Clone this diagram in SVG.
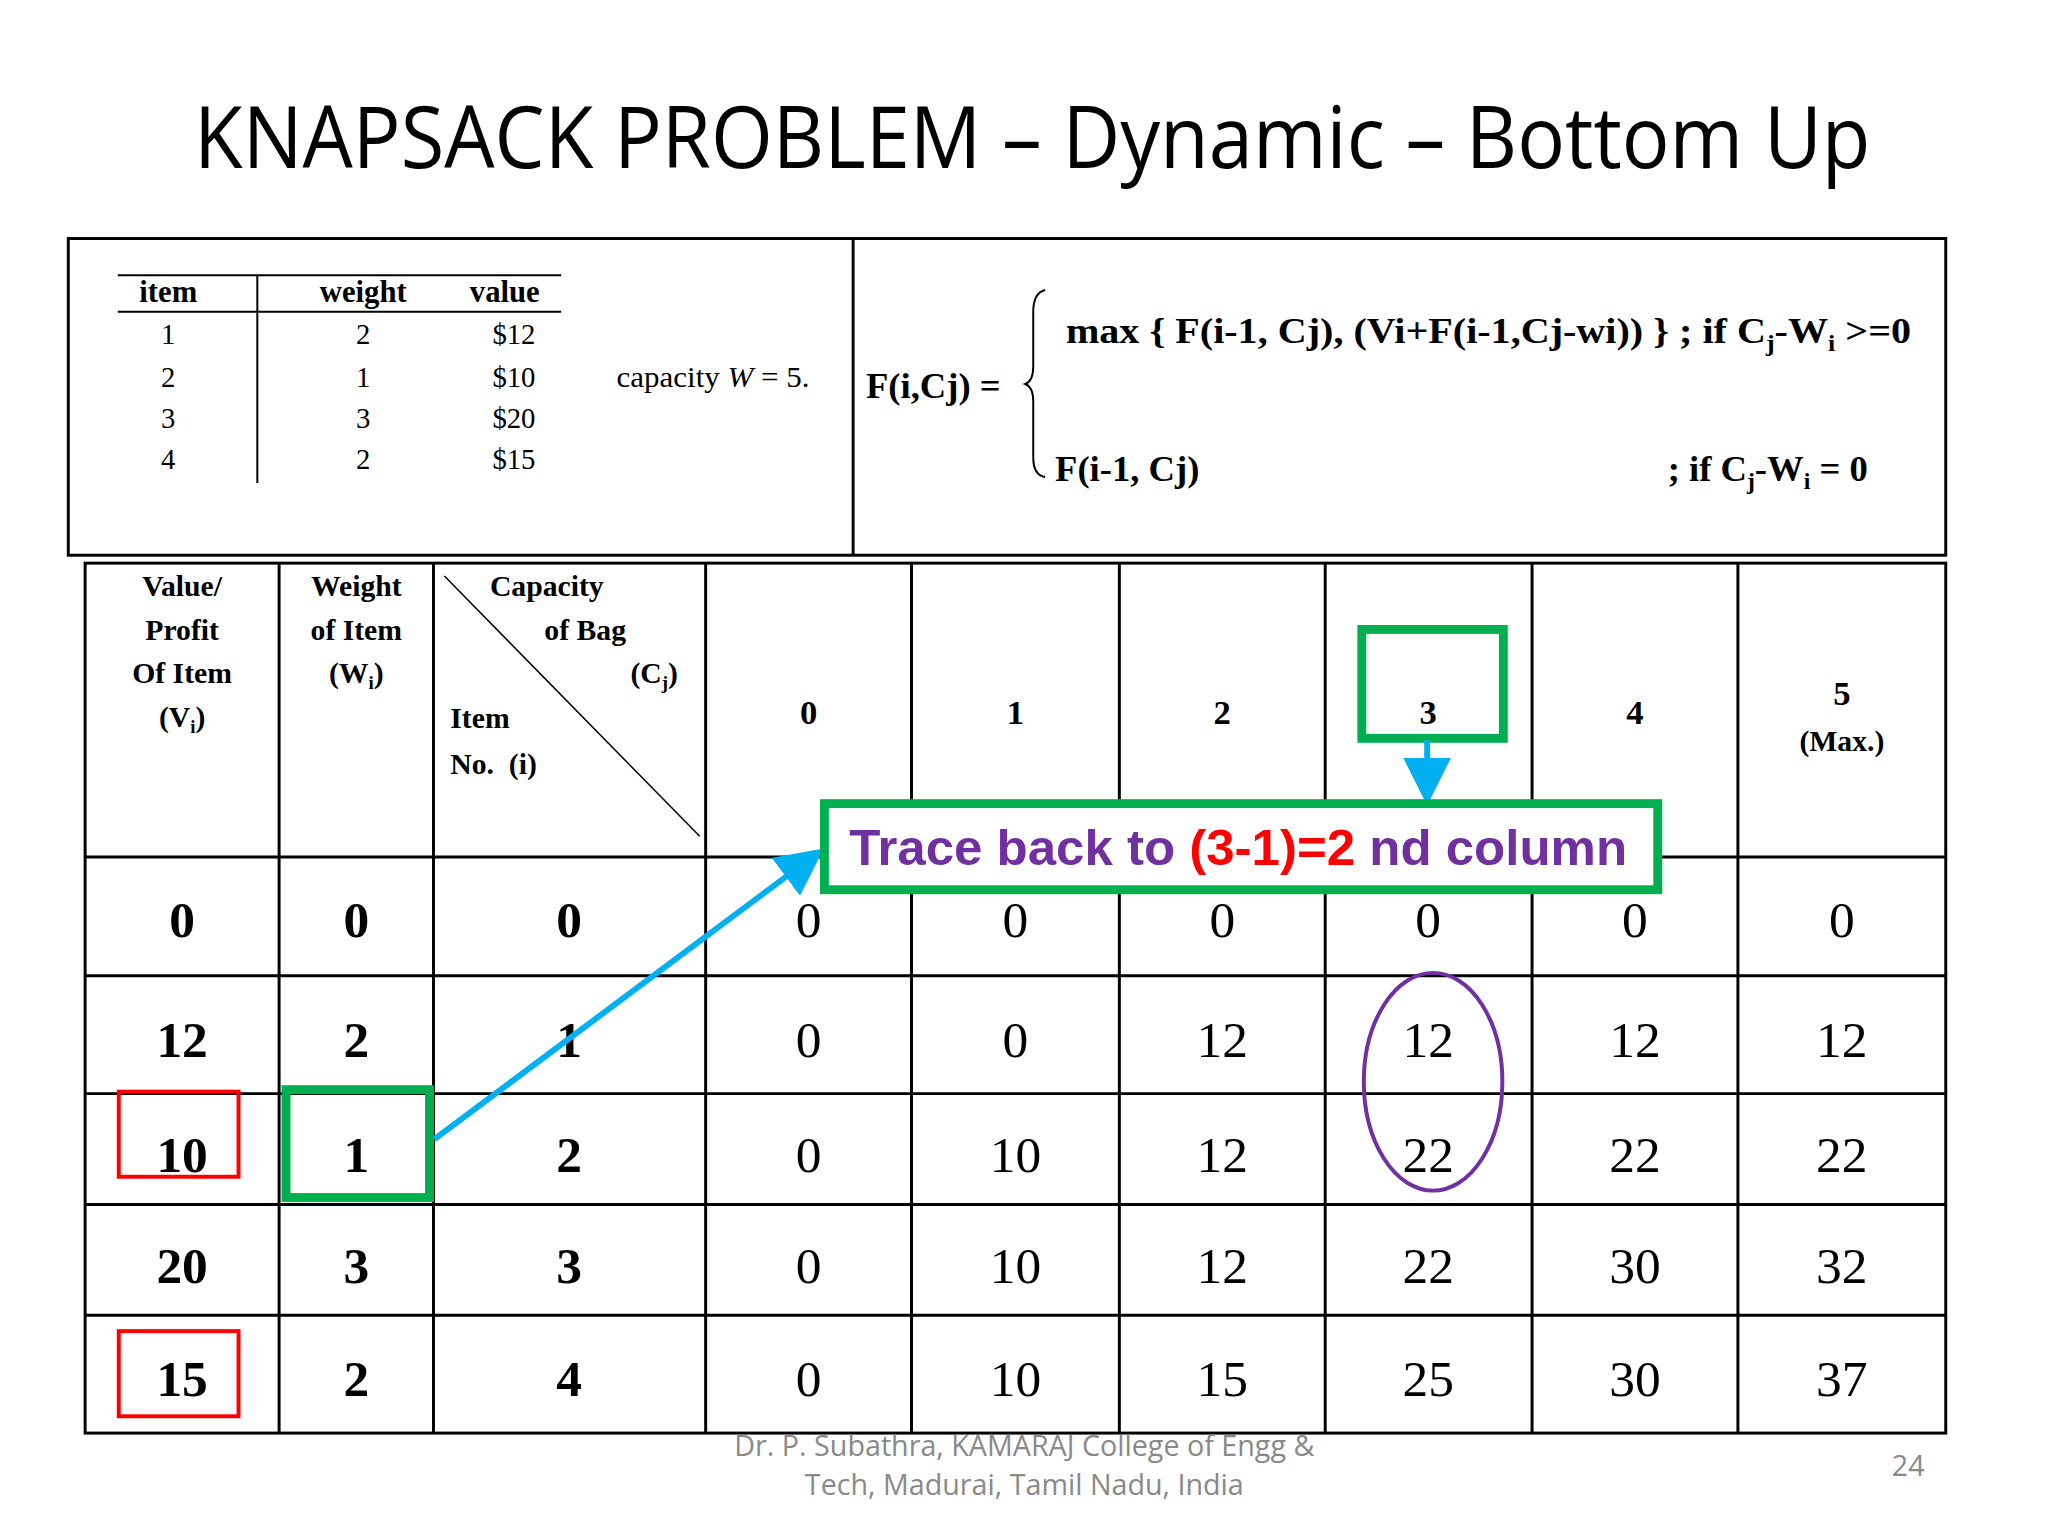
<svg xmlns="http://www.w3.org/2000/svg" width="2048" height="1536" viewBox="0 0 2048 1536">
<style>
.t{font-family:"Liberation Serif",serif;fill:#000}
.b{font-weight:bold}
.g{stroke:#000;stroke-width:3;fill:none}
.v{font-family:"Liberation Serif",serif;font-size:52px;text-anchor:middle}
.hd{font-family:"Liberation Serif",serif;font-weight:bold;font-size:30px;text-anchor:middle}
.hs{text-anchor:start}
.ch{font-size:35px}
</style>
<defs>
<marker id="ah" markerWidth="8" markerHeight="8" refX="5" refY="4" orient="auto" markerUnits="strokeWidth"><path d="M0,0 L8,4 L0,8 Z" fill="#00B0F0"/></marker>
</defs>
<rect width="2048" height="1536" fill="#fff"/>
<g transform="scale(0.9897)">
<text x="1043" y="170" font-family="'Open Sans',sans-serif" font-size="86" text-anchor="middle" textLength="1694" lengthAdjust="spacingAndGlyphs">KNAPSACK PROBLEM – Dynamic – Bottom Up</text>

<g id="topbox">
<rect x="69" y="241" width="1897" height="320" class="g"/>
<line x1="862" y1="241" x2="862" y2="561" class="g"/>
</g>
<g id="items" class="t" font-size="29">
<line x1="119" y1="278" x2="567" y2="278" stroke="#000" stroke-width="2"/>
<line x1="119" y1="315" x2="567" y2="315" stroke="#000" stroke-width="2"/>
<line x1="260" y1="278" x2="260" y2="488" stroke="#000" stroke-width="2"/>
<text x="170" y="305" text-anchor="middle" font-weight="bold" font-size="31">item</text>
<text x="367" y="305" text-anchor="middle" font-weight="bold" font-size="31">weight</text>
<text x="510" y="305" text-anchor="middle" font-weight="bold" font-size="31">value</text>
<g text-anchor="middle">
<text x="170" y="348">1</text><text x="367" y="348">2</text>
<text x="170" y="391">2</text><text x="367" y="391">1</text>
<text x="170" y="432">3</text><text x="367" y="432">3</text>
<text x="170" y="474">4</text><text x="367" y="474">2</text>
</g>
<g text-anchor="end">
<text x="541" y="348">$12</text><text x="541" y="391">$10</text><text x="541" y="432">$20</text><text x="541" y="474">$15</text>
</g>
<text x="623" y="391" textLength="195" lengthAdjust="spacingAndGlyphs">capacity <tspan font-style="italic">W</tspan> = 5.</text>
</g>
<g id="formula" class="t b" font-size="37">
<text x="875" y="402">F(i,Cj) =</text>
<path d="M1056,293 Q1044,296 1044,315 L1044,370 Q1044,385 1036,388 Q1044,391 1044,406 L1044,462 Q1044,480 1056,482" fill="none" stroke="#000" stroke-width="2"/>
<text x="1077" y="347" textLength="854" lengthAdjust="spacingAndGlyphs">max { F(i-1, Cj), (Vi+F(i-1,Cj-wi)) }  ; if C<tspan font-size="24" dy="8">j</tspan><tspan dy="-8">-W</tspan><tspan font-size="24" dy="8">i</tspan><tspan dy="-8"> &gt;=0</tspan></text>
<text x="1066" y="486">F(i-1, Cj)</text>
<text x="1685" y="486">; if C<tspan font-size="24" dy="8">j</tspan><tspan dy="-8">-W</tspan><tspan font-size="24" dy="8">i</tspan><tspan dy="-8"> = 0</tspan></text>
</g>

<g id="grid">
<rect x="86" y="569" width="1880" height="879" class="g"/>
<path class="g" d="M282,569V1448M438,569V1448M713,569V1448M921,569V1448M1131,569V1448M1339,569V1448M1548,569V1448M1756,569V1448M86,866H1966M86,986H1966M86,1105H1966M86,1217H1966M86,1329H1966"/>
<line x1="449" y1="582" x2="707" y2="845" stroke="#000" stroke-width="1.5"/>
</g>
<g id="headers">
<text class="hd" x="184" y="602">Value/</text>
<text class="hd" x="184" y="647">Profit</text>
<text class="hd" x="184" y="690">Of Item</text>
<text class="hd" x="184" y="735">(V<tspan font-size="19" dy="6">i</tspan><tspan dy="-6">)</tspan></text>
<text class="hd" x="360" y="602">Weight</text>
<text class="hd" x="360" y="647">of Item</text>
<text class="hd" x="360" y="690">(W<tspan font-size="19" dy="6">i</tspan><tspan dy="-6">)</tspan></text>
<text class="hd hs" x="495" y="602">Capacity</text>
<text class="hd hs" x="550" y="647">of Bag</text>
<text class="hd hs" x="637" y="690">(C<tspan font-size="19" dy="6">j</tspan><tspan dy="-6">)</tspan></text>
<text class="hd hs" x="455" y="736">Item</text>
<text class="hd hs" x="455" y="782" xml:space="preserve">No.  (i)</text>
<text class="hd ch" x="817" y="732">0</text>
<text class="hd ch" x="1026" y="732">1</text>
<text class="hd ch" x="1235" y="732">2</text>
<text class="hd ch" x="1443" y="732">3</text>
<text class="hd ch" x="1652" y="732">4</text>
<text class="hd ch" x="1861" y="712">5</text>
<text class="hd" x="1861" y="759" font-size="26">(Max.)</text>
</g>
<g id="rows" class="v">
<g font-weight="bold">
<text x="184" y="947">0</text><text x="360" y="947">0</text><text x="575" y="947">0</text>
<text x="184" y="1068">12</text><text x="360" y="1068">2</text><text x="575" y="1068">1</text>
<text x="184" y="1184">10</text><text x="360" y="1184">1</text><text x="575" y="1184">2</text>
<text x="184" y="1296">20</text><text x="360" y="1296">3</text><text x="575" y="1296">3</text>
<text x="184" y="1411">15</text><text x="360" y="1411">2</text><text x="575" y="1411">4</text>
</g>
<text x="817" y="947">0</text><text x="1026" y="947">0</text><text x="1235" y="947">0</text><text x="1443" y="947">0</text><text x="1652" y="947">0</text><text x="1861" y="947">0</text>
<text x="817" y="1068">0</text><text x="1026" y="1068">0</text><text x="1235" y="1068">12</text><text x="1443" y="1068">12</text><text x="1652" y="1068">12</text><text x="1861" y="1068">12</text>
<text x="817" y="1184">0</text><text x="1026" y="1184">10</text><text x="1235" y="1184">12</text><text x="1443" y="1184">22</text><text x="1652" y="1184">22</text><text x="1861" y="1184">22</text>
<text x="817" y="1296">0</text><text x="1026" y="1296">10</text><text x="1235" y="1296">12</text><text x="1443" y="1296">22</text><text x="1652" y="1296">30</text><text x="1861" y="1296">32</text>
<text x="817" y="1411">0</text><text x="1026" y="1411">10</text><text x="1235" y="1411">15</text><text x="1443" y="1411">25</text><text x="1652" y="1411">30</text><text x="1861" y="1411">37</text>
</g>

<g id="highlights" fill="none">
<rect x="120" y="1103" width="121" height="86" stroke="#FF0000" stroke-width="4"/>
<rect x="120" y="1345" width="121" height="86" stroke="#FF0000" stroke-width="4"/>
<rect x="289" y="1101" width="145" height="109" stroke="#00B050" stroke-width="9"/>
<rect x="1376" y="636" width="143" height="110" stroke="#00B050" stroke-width="9"/>
<ellipse cx="1448" cy="1093" rx="70" ry="110" stroke="#7030A0" stroke-width="4"/>
</g>
<g id="connectors" stroke="#00B0F0" stroke-width="6" fill="none">
<line x1="1442" y1="748" x2="1442" y2="796" marker-end="url(#ah)"/>
<line x1="439" y1="1151" x2="818" y2="868" marker-end="url(#ah)"/>
</g>
<g id="label">
<rect x="833" y="812" width="842" height="87" fill="#fff" stroke="#00B050" stroke-width="9"/>
<text x="858" y="874" font-family="'Liberation Sans',sans-serif" font-weight="bold" font-size="50" fill="#7030A0" textLength="786" lengthAdjust="spacingAndGlyphs">Trace back to <tspan fill="#FF0000">(3-1)=2</tspan> nd column</text>
</g>
<g id="footer" font-family="'Open Sans',sans-serif" font-size="29" fill="#898989" text-anchor="middle">
<text x="1035" y="1471">Dr. P. Subathra, KAMARAJ College of Engg &amp;</text>
<text x="1035" y="1511">Tech, Madurai, Tamil Nadu, India</text>
<text x="1928" y="1491">24</text>
</g>
</g>
</svg>
